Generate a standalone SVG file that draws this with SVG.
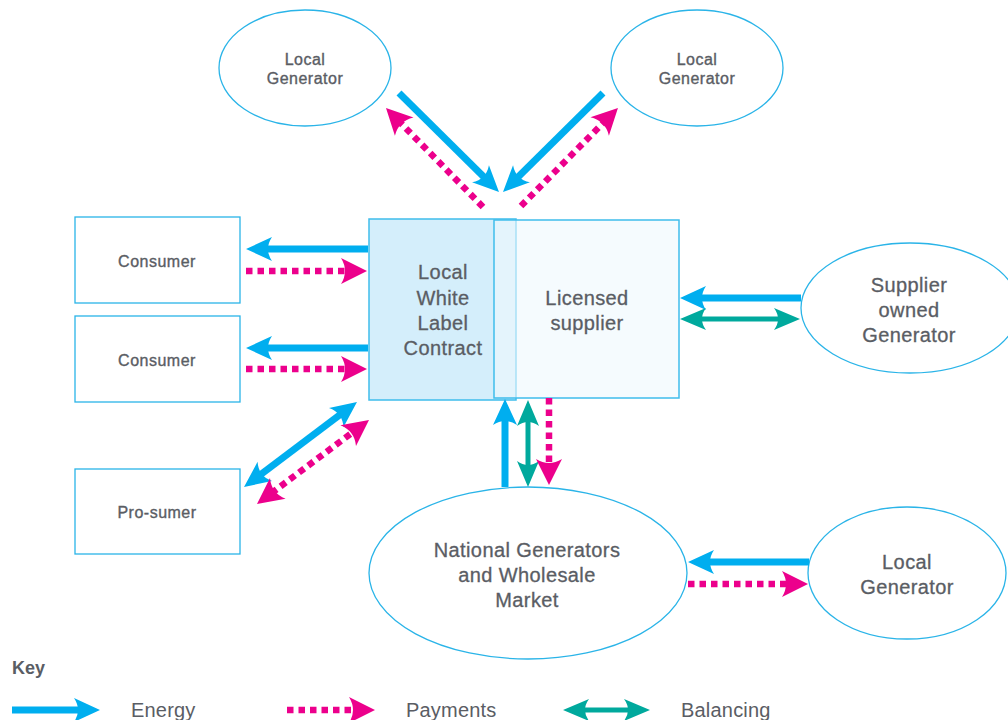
<svg xmlns="http://www.w3.org/2000/svg" width="1008" height="720" viewBox="0 0 1008 720">
<style>
.node{fill:#ffffff;stroke:#2ab4e8;stroke-width:1.3}
.t{font-family:"Liberation Sans",Arial,sans-serif;fill:#5a5d64;text-anchor:middle}
.s{font-size:16px;letter-spacing:0.5px;stroke:#5a5d64;stroke-width:0.35}
.m{font-size:20px;letter-spacing:0.4px;stroke:#5a5d64;stroke-width:0.3}
.k{font-size:20px;letter-spacing:0.2px}
.en{fill:none;stroke:#00aeef;stroke-width:7}
.pay{fill:none;stroke:#ec008c;stroke-width:6.5;stroke-dasharray:6.5 5}
.bal{fill:none;stroke:#00a99d;stroke-width:5}
.e{marker-end:url(#hE)}
.p{marker-end:url(#hP)}
.pp{marker-start:url(#hP);marker-end:url(#hP)}
.ee{marker-start:url(#hE);marker-end:url(#hE)}
.bb{marker-start:url(#hB);marker-end:url(#hB)}
</style>
<defs>
<marker id="hE" markerUnits="userSpaceOnUse" markerWidth="40" markerHeight="40" refX="0" refY="0" orient="auto-start-reverse" overflow="visible"><path d="M18,0 L-8,-12 Q0,0 -8,12 Z" fill="#00aeef"/></marker>
<marker id="hP" markerUnits="userSpaceOnUse" markerWidth="40" markerHeight="40" refX="0" refY="0" orient="auto-start-reverse" overflow="visible"><path d="M18,0 L-8,-13 Q0,0 -8,13 Z" fill="#ec008c"/></marker>
<marker id="hB" markerUnits="userSpaceOnUse" markerWidth="40" markerHeight="40" refX="0" refY="0" orient="auto-start-reverse" overflow="visible"><path d="M18,0 L-8,-11 Q0,0 -8,11 Z" fill="#00a99d"/></marker>
</defs>
<rect width="1008" height="720" fill="#ffffff"/>

<g id="gen-top-left">
<ellipse class="node" cx="305" cy="68" rx="86" ry="58"/>
<text class="t s" x="305" y="65">Local</text>
<text class="t s" x="305" y="84">Generator</text>
</g>
<g id="gen-top-right">
<ellipse class="node" cx="697" cy="68" rx="86" ry="58"/>
<text class="t s" x="697" y="65">Local</text>
<text class="t s" x="697" y="84">Generator</text>
</g>
<g id="consumer-1">
<rect class="node" x="75" y="217" width="165" height="86"/>
<text class="t s" x="157" y="267">Consumer</text>
</g>
<g id="consumer-2">
<rect class="node" x="75" y="316" width="165" height="86"/>
<text class="t s" x="157" y="366">Consumer</text>
</g>
<g id="prosumer">
<rect class="node" x="75" y="469" width="165" height="85"/>
<text class="t s" x="157" y="518">Pro-sumer</text>
</g>
<g id="white-label">
<rect x="369" y="219" width="147" height="181" fill="#d4eefb" stroke="#3fbdec" stroke-width="1.5"/>
<text class="t m" x="443" y="279">Local</text>
<text class="t m" x="443" y="305">White</text>
<text class="t m" x="443" y="330">Label</text>
<text class="t m" x="443" y="355">Contract</text>
</g>
<g id="licensed-supplier">
<rect x="494" y="220" width="185" height="178" fill="#eef8fd" fill-opacity="0.6" stroke="#3fbdec" stroke-width="1.5"/>
<text class="t m" x="587" y="305">Licensed</text>
<text class="t m" x="587" y="330">supplier</text>
</g>
<g id="supplier-generator">
<ellipse class="node" cx="910" cy="308" rx="109" ry="65"/>
<text class="t m" x="909" y="292">Supplier</text>
<text class="t m" x="909" y="317">owned</text>
<text class="t m" x="909" y="342">Generator</text>
</g>
<g id="national">
<ellipse class="node" cx="528" cy="573" rx="159" ry="86"/>
<text class="t m" x="527" y="557">National Generators</text>
<text class="t m" x="527" y="582">and Wholesale</text>
<text class="t m" x="527" y="607">Market</text>
</g>
<g id="gen-bottom-right">
<ellipse class="node" cx="907" cy="573" rx="99" ry="66"/>
<text class="t m" x="907" y="569">Local</text>
<text class="t m" x="907" y="594">Generator</text>
</g>

<g id="connectors">
<path class="en e" d="M399,93 L486.2,179.3"/>
<path class="en e" d="M603,93 L515.8,179.3"/>
<path class="pay p" d="M483,207 L398.6,120.9"/>
<path class="pay p" d="M521,206 L605.3,120.8"/>
<path class="en e" d="M368,249 L264,249"/>
<path class="pay p" d="M246,271 L349,271"/>
<path class="en e" d="M368,348 L264,348"/>
<path class="pay p" d="M246,369 L349,369"/>
<path class="en ee" d="M258.4,476.2 L342.6,412.8"/>
<path class="pay pp" d="M271.4,493.2 L354.6,430.8"/>
<path class="en e" d="M801,298 L698,298"/>
<path class="bal bb" d="M698,319 L782,319"/>
<path class="en e" d="M505,487 L505,417"/>
<path class="bal bb" d="M528,418 L528,469"/>
<path class="pay p" d="M549,398 L549,467"/>
<path class="en e" d="M809,562 L706,562"/>
<path class="pay p" d="M688,584 L790,584"/>
</g>

<g id="key">
<text x="12" y="674" font-family="Liberation Sans,Arial,sans-serif" font-size="18" font-weight="bold" fill="#5a5d64">Key</text>
<path class="en e" d="M12,710 L82,710"/>
<text class="t k" x="131" y="717" style="text-anchor:start">Energy</text>
<path class="pay p" d="M287,710 L357,710"/>
<text class="t k" x="406" y="717" style="text-anchor:start">Payments</text>
<path class="bal bb" d="M581,710 L632,710"/>
<text class="t k" x="681" y="717" style="text-anchor:start">Balancing</text>
</g>
</svg>
